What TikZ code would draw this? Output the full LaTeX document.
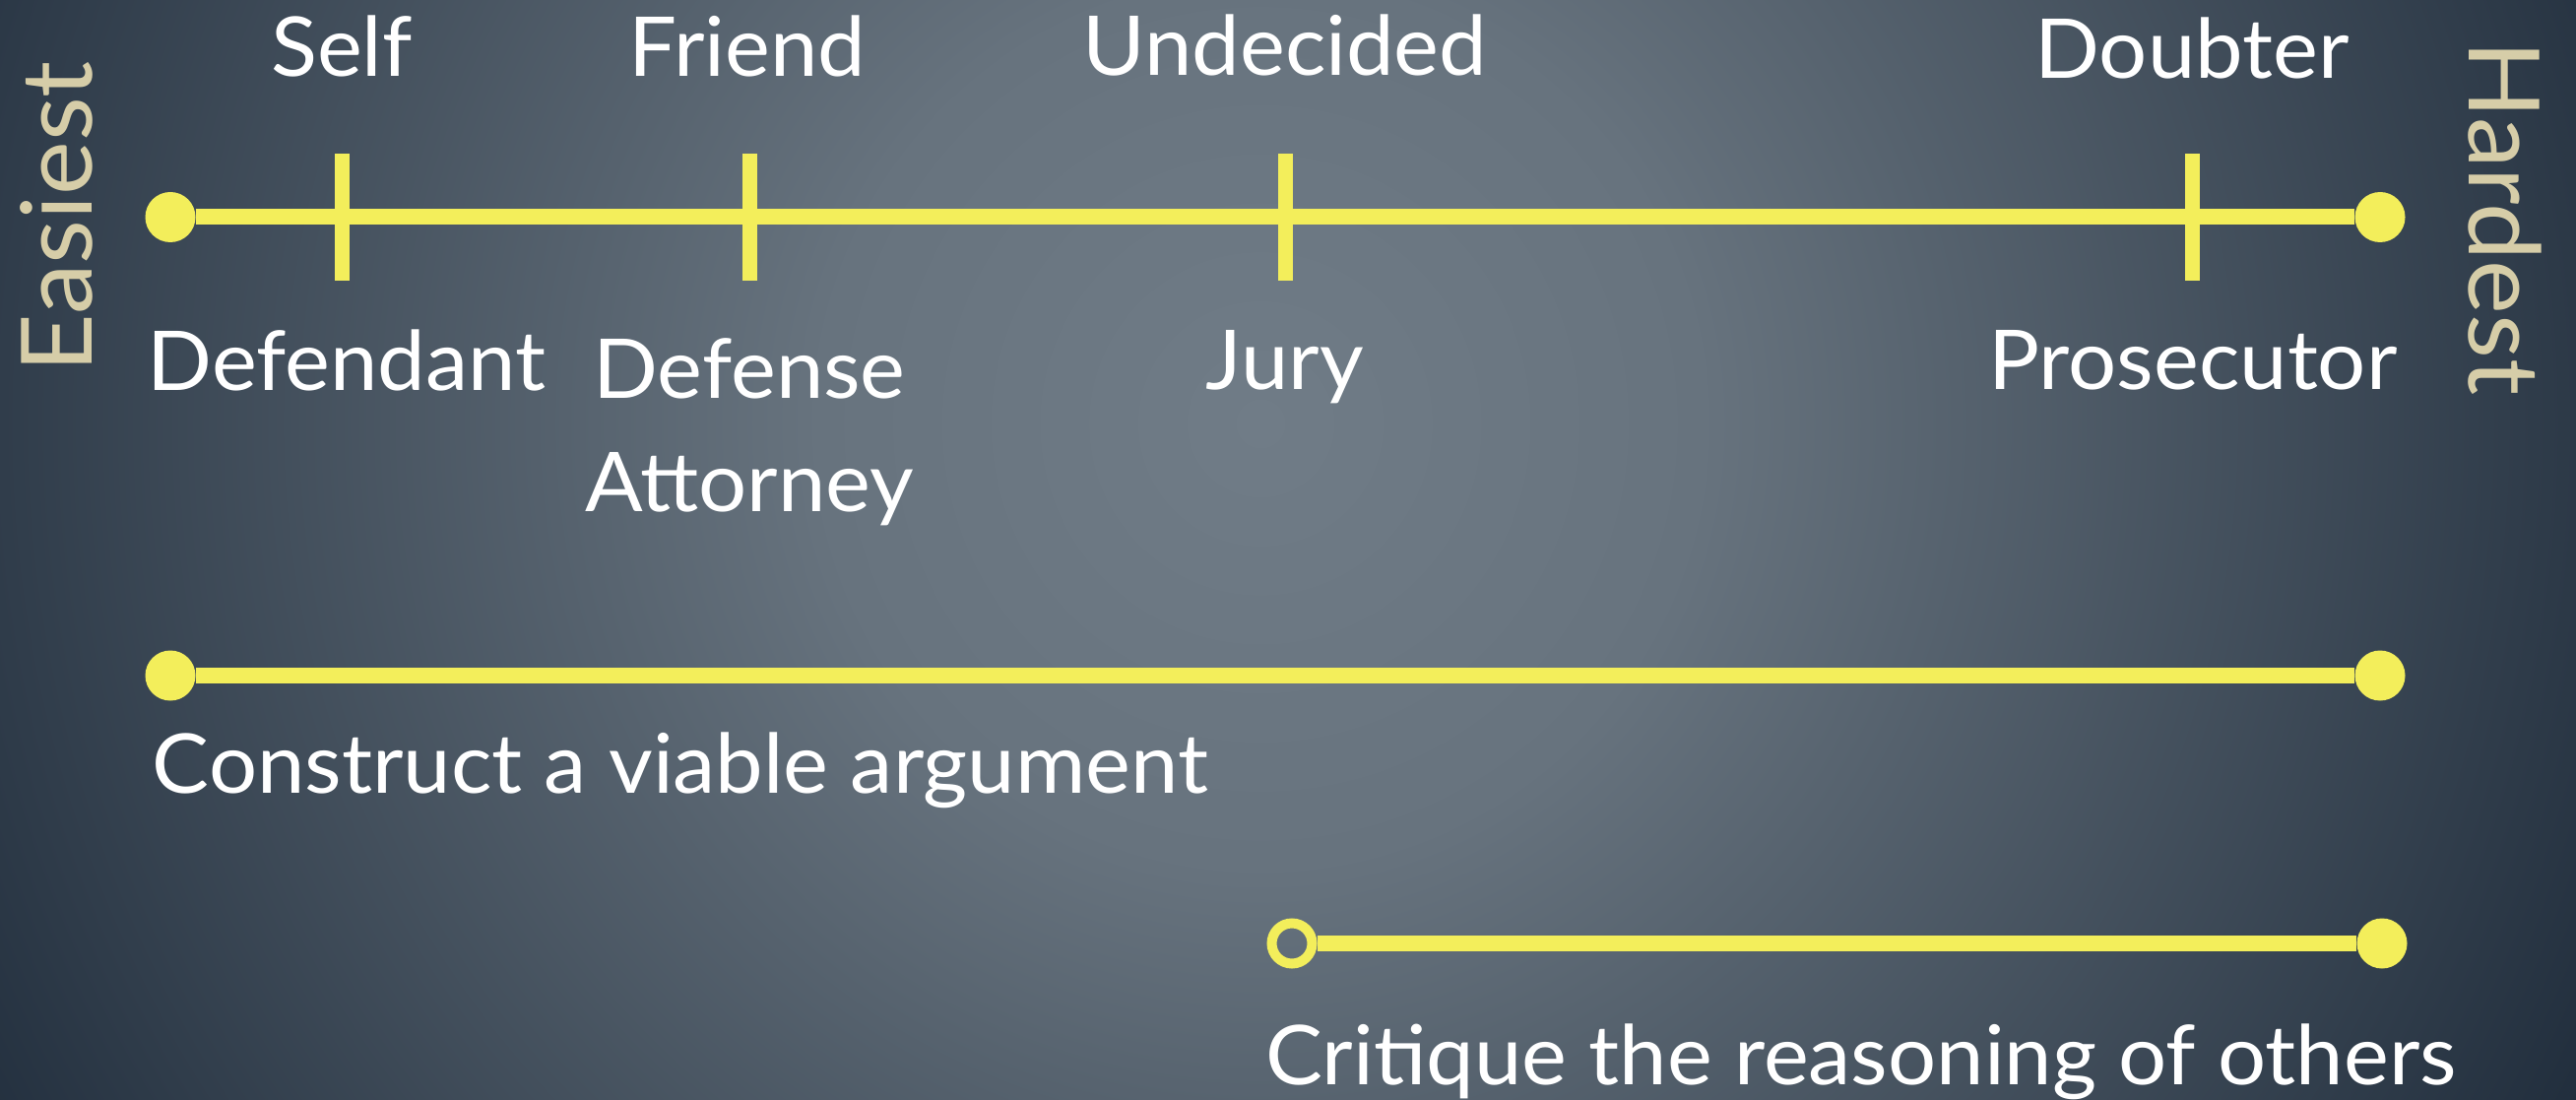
\documentclass[tikz,border=0pt]{standalone}
\usepackage{fontspec}
\setmainfont{Lato}[FakeStretch=1.035]
\definecolor{barY}{HTML}{F3EE5B}
\definecolor{sideC}{HTML}{D6CDA8}
\definecolor{bgIn}{HTML}{707C87}
\definecolor{bgMid}{HTML}{67737E}
\definecolor{bgOut}{HTML}{1F2C3B}
% central 50bp x 50bp of the shading covers the path: 1bp = 64px here
\pgfdeclareradialshading{bgshade}{\pgfpoint{0bp}{0bp}}{color(0bp)=(bgIn); color(7bp)=(bgMid); color(24bp)=(bgOut); color(50bp)=(bgOut)}
\begin{document}
\begin{tikzpicture}[x=0.5pt,y=-0.5pt,
  dot/.style={circle,fill=barY,draw=none,minimum size=25.5pt,inner sep=0pt},
  ring/.style={circle,draw=barY,line width=5pt,fill=none,minimum size=20.5pt,inner sep=0pt},
  tickmark/.style={rectangle,fill=barY,draw=none,minimum width=7.5pt,minimum height=64.5pt,inner sep=0pt},
  bar/.style={draw=barY,line width=8pt},
  lbl/.style={text=white,font=\fontsize{41.9}{57.5}\selectfont,inner sep=0pt,anchor=base},
  side/.style={text=sideC,font=\fontsize{50}{60}\selectfont,inner sep=0pt,anchor=base}]
\useasboundingbox (0,0) rectangle (2616,1117);
\begin{scope}
  \clip (0,0) rectangle (2616,1117);
  \shade[shading=bgshade] (-320,-1170) rectangle (2880,2030);
\end{scope}
% scale line
\node[dot] (a0) at (173,220.5) {};
\node[dot] (a1) at (2417,220.5) {};
\draw[bar] (a0) -- (a1);
\node[tickmark] (t1) at (347,220.5) {};
\node[tickmark] (t2) at (761,220.5) {};
\node[tickmark] (t3) at (1305,220.5) {};
\node[tickmark] (t4) at (2226,220.5) {};
\node[lbl] (self) at (347,78) {Self};
\node[lbl] (friend) at (759,78) {Friend};
\node[lbl] (undecided) at (1305,77) {Undecided};
\node[lbl] (doubter) at (2226,80) {Doubter};
\node[lbl] (defendant) at (352,396) {Defendant};
\node[lbl,align=center] (defense) at (761,519) {Defense\\Attorney};
\node[lbl] (jury) at (1305,395) {Jury};
\node[lbl] (prosecutor) at (2227,395) {Prosecutor};
\node[side,rotate=90] (easiest) at (93,220.5) {Easiest};
\node[side,rotate=-90] (hardest) at (2507,221.5) {Hardest};
% construct
\node[dot] (b0) at (173,686) {};
\node[dot] (b1) at (2417,686) {};
\draw[bar] (b0) -- (b1);
\node[lbl] (construct) at (691,805) {Construct a viable argument};
% critique
\node[ring] (c0) at (1312,958) {};
\node[dot] (c1) at (2419,958) {};
\draw[bar] (c0) -- (c1);
\node[lbl] (critique) at (1890,1101) {Critique the reasoning of others};
\end{tikzpicture}
\end{document}
